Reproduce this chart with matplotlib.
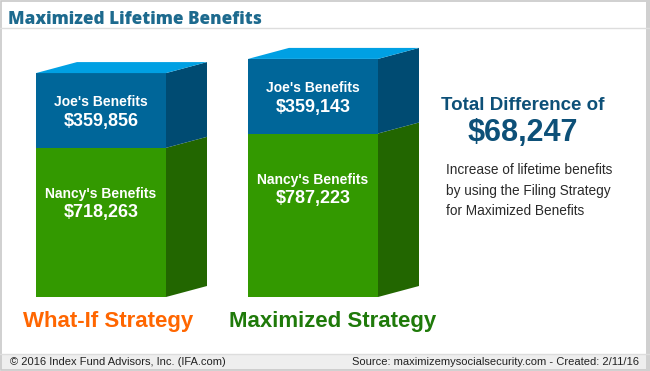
import numpy as np
import matplotlib.pyplot as plt
from matplotlib.patches import Polygon, Rectangle
from matplotlib import transforms

plt.rcParams['font.family'] = ['Liberation Sans', 'DejaVu Sans']

strategies = ["What-If Strategy", "Maximized Strategy"]
strategy_colors = ["#ff6600", "#1f7a0a"]
joe = [359856, 359143]
nancy = [718263, 787223]
total_difference = "$68,247"

W, H = 650, 371
fig = plt.figure(figsize=(W / 100, H / 100), dpi=100)
fig.patch.set_facecolor("white")

# background frame, title rule and footer band (figure pixel coords)
bg = fig.add_axes([0, 0, 1, 1])
bg.set_xlim(0, W)
bg.set_ylim(H, 0)
bg.axis("off")
bg.add_patch(Rectangle((0, 354), W, 16, facecolor="#eeeeee", edgecolor="none"))
bg.plot([0, W], [27.5, 27.5], color="#dddddd", lw=1)
bg.plot([0, W], [354, 354], color="#dddddd", lw=1)
bg.add_patch(Rectangle((0.5, 0.5), 646, 369.5, facecolor="none", edgecolor="#c8c8c8", lw=1.2))
bg.add_patch(Rectangle((646, 0), 4, H, facecolor="#d0d0d0", edgecolor="none"))

bg.text(8, 24.5, "Maximized Lifetime Benefits", family=["Open Sans", "DejaVu Sans"],
        fontweight="heavy", fontsize=12.3, color="#1d6a8e", va="baseline")
bg.text(10, 362, "\u00a9 2016 Index Fund Advisors, Inc. (IFA.com)", fontsize=8,
        color="#222222", va="center")
bg.text(639, 362, "Source: maximizemysocialsecurity.com - Created: 2/11/16", fontsize=8,
        color="#222222", va="center", ha="right")

# right-hand summary
bg.text(523, 105, "Total Difference of", fontsize=13.5, fontweight="bold",
        color="#0d5078", ha="center", va="center")
bg.text(523, 133, total_difference, fontsize=22, fontweight="bold",
        color="#0d5078", ha="center", va="center")
for i, line in enumerate(["Increase of lifetime benefits",
                          "by using the Filing Strategy",
                          "for Maximized Benefits"]):
    bg.text(446, 170 + 20.5 * i, line, fontsize=9.8, color="#2a2a2a", va="center")

# bar axes: value 0 sits at pixel row 297
base_px = 297
px_per_dollar = 462 / 2224485
unit_px = 212
ax = fig.add_axes([0, (H - base_px) / H, 1, base_px / H])
ax.set_ylim(0, base_px / px_per_dollar)
ax.set_xlim(-101 / unit_px, (W - 101) / unit_px)
ax.axis("off")

x = np.arange(len(strategies))
width = 130 / unit_px
dx = 41 / unit_px
dy = 11 / px_per_dollar
joe = np.array(joe)
nancy = np.array(nancy)
tops = joe + nancy

ax.bar(x, nancy, width, color="#339900", edgecolor="none")
ax.bar(x, joe, width, bottom=nancy, color="#006699", edgecolor="none")

for xi, n, t in zip(x, nancy, tops):
    xl, xr = xi - width / 2, xi + width / 2
    ax.add_patch(Polygon([(xr, 0), (xr + dx, dy), (xr + dx, n + dy), (xr, n)],
                         closed=True, facecolor="#226600", edgecolor="none"))
    ax.add_patch(Polygon([(xr, n), (xr + dx, n + dy), (xr + dx, t + dy), (xr, t)],
                         closed=True, facecolor="#004b72", edgecolor="none"))
    ax.add_patch(Polygon([(xl, t), (xl + dx, t + dy), (xr + dx, t + dy), (xr, t)],
                         closed=True, facecolor="#00a0e3", edgecolor="none"))


def shifted(px):
    return transforms.offset_copy(ax.transData, fig=fig, x=0, y=px, units="dots")


for xi, j, n in zip(x, joe, nancy):
    mid = n + j / 2
    ax.text(xi, mid, "Joe's Benefits", transform=shifted(8), ha="center", va="center",
            color="white", fontweight="bold", fontsize=10)
    ax.text(xi, mid, f"${j:,}", transform=shifted(-11), ha="center", va="center",
            color="white", fontweight="bold", fontsize=13)
    ax.text(xi, n, "Nancy's Benefits", transform=shifted(-46), ha="center", va="center",
            color="white", fontweight="bold", fontsize=10)
    ax.text(xi, n, f"${n:,}", transform=shifted(-65), ha="center", va="center",
            color="white", fontweight="bold", fontsize=13)

label_px = [108, 333]
for name, c, lx in zip(strategies, strategy_colors, label_px):
    bg.text(lx, 322, name, ha="center", va="center", color=c,
            fontweight="bold", fontsize=16)

fig.savefig("out.png", dpi=100)
